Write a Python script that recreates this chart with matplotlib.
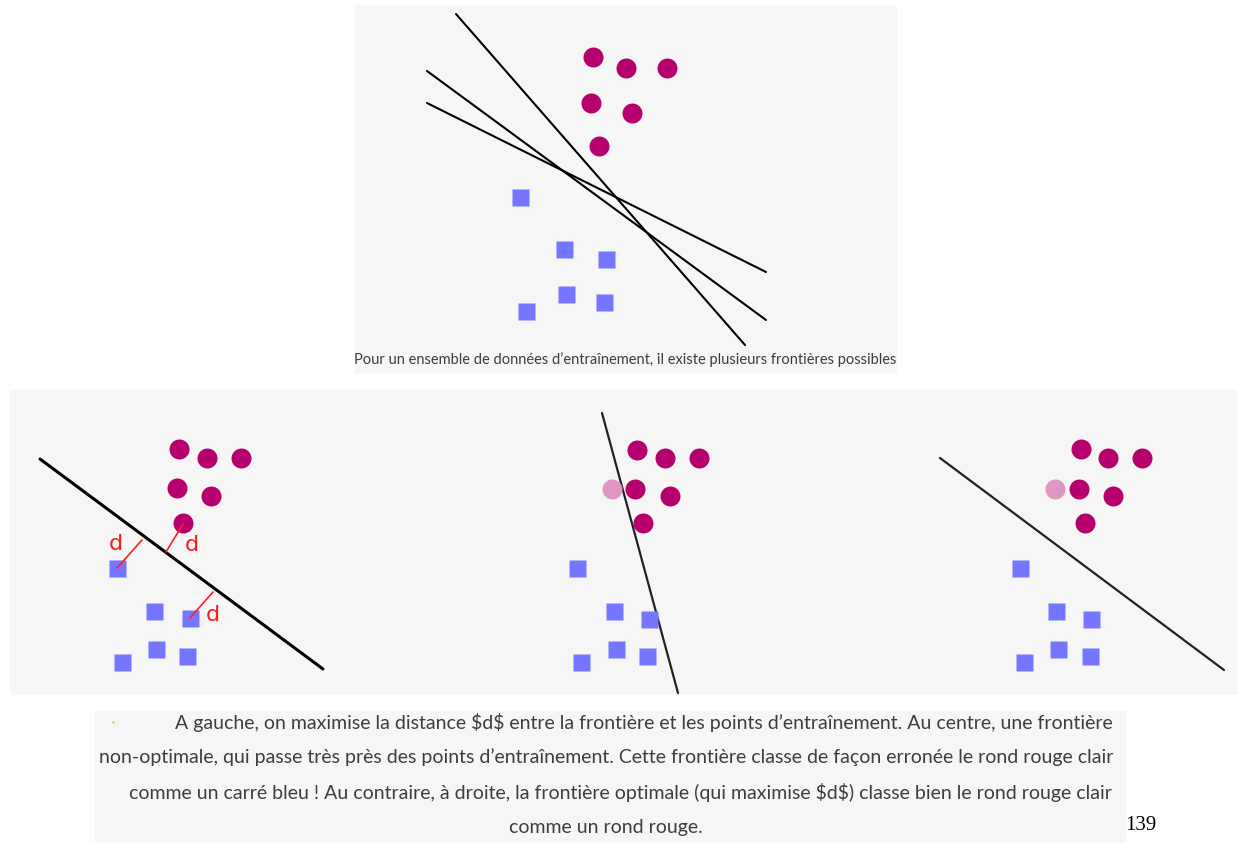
import matplotlib
matplotlib.use("Agg")
import matplotlib.pyplot as plt
from matplotlib.patches import Rectangle

# ---- data (pixel positions) ----
top_circles_x = [593, 626, 667, 591, 632, 599]
top_circles_y = [57, 68, 68, 103, 113, 146]
top_squares_x = [520, 564, 606, 566, 604, 526]
top_squares_y = [197, 249, 259, 294, 302, 311]
top_lines = [((456, 14), (745, 345)), ((427, 71), (766, 320)), ((427, 103), (766, 272))]

left_circles_x = [179, 207, 241, 177, 211, 183]
left_circles_y = [449, 458, 458, 488, 496, 523]
left_squares_x = [117, 154, 190, 156, 187, 122]
left_squares_y = [568, 611, 618, 649, 656, 662]
left_line = ((40, 459), (323, 669))
d_segments = [((117, 568), (142, 540)), ((183, 524), (166, 552)), ((190, 618), (213, 592))]
d_labels_xy = [(116, 544), (192, 545), (213, 615)]

mid_circles_x = [637, 665, 699, 635, 670, 643]
mid_circles_y = [450, 458, 458, 489, 496, 523]
mid_pink = (612, 489)
mid_squares_x = [577, 614, 649, 616, 647, 581]
mid_squares_y = [568, 611, 619, 649, 656, 662]
mid_line = ((602, 413), (678, 693))

right_circles_x = [1081, 1108, 1142, 1079, 1113, 1085]
right_circles_y = [449, 458, 458, 489, 496, 523]
right_pink = (1055, 489)
right_squares_x = [1020, 1056, 1091, 1058, 1090, 1024]
right_squares_y = [568, 611, 619, 649, 656, 662]
right_line = ((940, 458), (1224, 670))

top_caption = "Pour un ensemble de données d’entraînement, il existe plusieurs frontières possibles"
caption_lines = [
    "A gauche, on maximise la distance $d$ entre la frontière et les points d’entraînement. Au centre, une frontière",
    "non-optimale, qui passe très près des points d’entraînement. Cette frontière classe de façon erronée le rond rouge clair",
    "comme un carré bleu ! Au contraire, à droite, la frontière optimale (qui maximise $d$) classe bien le rond rouge clair",
    "comme un rond rouge.",
]
page_number = "139"

# ---- styles ----
BG = "#f6f6f6"
MAGENTA = "#b5006e"
PINK = "#de97c3"
BLUE = "#7575ff"
TXT = "#3d3d3d"

W, H = 1238, 843
fig = plt.figure(figsize=(W / 100, H / 100), dpi=100)
ax = fig.add_axes([0, 0, 1, 1])
ax.set_xlim(0, W)
ax.set_ylim(H, 0)
ax.axis("off")

# backgrounds
ax.add_patch(Rectangle((355, 5), 541, 367, color=BG, zorder=0))
ax.add_patch(Rectangle((10, 390), 1228, 304, color=BG, zorder=0))
ax.add_patch(Rectangle((95, 711), 1030, 132, color=BG, zorder=0))

def pts(px):
    return px * 0.72

def draw_line(seg, lw, color="black", z=2):
    (x0, y0), (x1, y1) = seg
    ax.plot([x0, x1], [y0, y1], color=color, lw=lw, solid_capstyle="round", zorder=z)

def circles(xs, ys, color):
    ax.plot(xs, ys, "o", ms=pts(20), color=color, mec="none", zorder=3)

def squares(xs, ys):
    ax.plot(xs, ys, "s", ms=pts(17), color=BLUE, mec="none", zorder=3)

# top panel
for seg in top_lines:
    draw_line(seg, 1.5)
circles(top_circles_x, top_circles_y, MAGENTA)
squares(top_squares_x, top_squares_y)
ax.text(625.5, 360, top_caption, ha="center", va="center", fontsize=10.5,
        family="Lato", color=TXT)

# left panel
draw_line(left_line, 2.2)
circles(left_circles_x, left_circles_y, MAGENTA)
squares(left_squares_x, left_squares_y)
for seg in d_segments:
    draw_line(seg, 1.2, color="#ff2020", z=4)
for (x, y) in d_labels_xy:
    ax.text(x, y, "d", ha="center", va="center", fontsize=16, color="#ff1a1a",
            family="DejaVu Sans", zorder=5)

# middle panel
draw_line(mid_line, 1.6, color="#222222")
circles(mid_circles_x, mid_circles_y, MAGENTA)
circles([mid_pink[0]], [mid_pink[1]], PINK)
squares(mid_squares_x, mid_squares_y)

# right panel
draw_line(right_line, 1.6, color="#222222")
circles(right_circles_x, right_circles_y, MAGENTA)
circles([right_pink[0]], [right_pink[1]], PINK)
squares(right_squares_x, right_squares_y)

# bottom caption
cap_y = [722, 757, 792, 828]
cap_x = [643.5, 606, 620, 606]
for txt, x, y in zip(caption_lines, cap_x, cap_y):
    ax.text(x, y, txt.replace("$", r"\$"), ha="center", va="center", fontsize=14.0,
            family="Lato", color=TXT)
ax.plot([113], [722], ".", ms=1.5, color="#f0b060")

ax.text(1141, 826, page_number, ha="center", va="center", fontsize=15,
        family="Liberation Serif", color="black")

fig.savefig("out.png", dpi=100)
